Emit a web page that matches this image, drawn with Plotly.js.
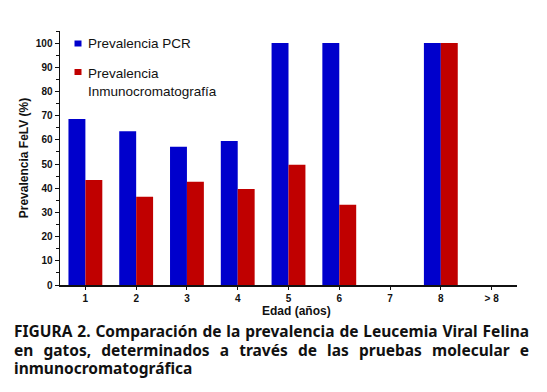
<!DOCTYPE html>
<html>
<head>
<meta charset="utf-8">
<script src="https://cdn.plot.ly/plotly-3.0.1.min.js"></script>
<style>
  html, body { margin: 0; padding: 0; background: #fff; }
  #wrap { position: relative; width: 547px; height: 392px; }
  #chart { position: absolute; left: 0; top: 0; width: 547px; height: 392px; }
  #caption {
    position: absolute; left: 14px; top: 322px; width: 515px;
    font-family: "Noto Sans", sans-serif; font-weight: bold; font-size: 15.5px;
    line-height: 18.5px; color: #111; text-align: justify;
  }
</style>
</head>
<body>
<div id="wrap">
  <div id="chart"></div>
  <div id="caption">FIGURA 2. Comparación de la prevalencia de Leucemia Viral Felina en gatos, determinados a través de las pruebas molecular e inmunocromatográfica</div>
</div>
<script>
const categories = ["1", "2", "3", "4", "5", "6", "7", "8", "> 8"];
const pcrValues = [68.6, 63.6, 57.2, 59.5, 100, 100, 0, 100, 0];
const inmunoValues = [43.4, 36.5, 42.7, 39.7, 49.7, 33.2, 0, 100, 0];
const seriesNames = ["Prevalencia PCR", "Prevalencia<br>Inmunocromatografía"];
const seriesColors = ["#0000CC", "#C00000"];

const traces = [
  { type: "bar", x: categories, y: pcrValues, name: seriesNames[0],
    marker: { color: seriesColors[0] } },
  { type: "bar", x: categories, y: inmunoValues, name: seriesNames[1],
    marker: { color: seriesColors[1] } }
];

// plot area: x 60..517 px, y 31..285 px
const L = 60, R = 517, T = 31, B = 285;
const px = x => (x - L) / (R - L);
const py = y => (B - y) / (B - T);

const legendRows = [43.5, 72];
const shapes = legendRows.map((yy, i) => ({
  type: "rect", xref: "paper", yref: "paper",
  x0: px(74.5), x1: px(81.5), y0: py(yy + 3), y1: py(yy - 3),
  fillcolor: seriesColors[i], line: { width: 0 }
}));
const annotations = [
  { xref: "paper", yref: "paper", x: px(86), y: py(43.5), xanchor: "left", yanchor: "middle",
    text: seriesNames[0], showarrow: false, font: { size: 13.5, color: "#111" } },
  { xref: "paper", yref: "paper", x: px(86), y: py(63.5), xanchor: "left", yanchor: "top",
    text: seriesNames[1], showarrow: false, align: "left", font: { size: 13.5, color: "#111" } },
  { xref: "paper", yref: "paper", x: px(296), y: py(311), xanchor: "center", yanchor: "middle",
    text: "Edad (años)", showarrow: false, font: { size: 12, weight: "bold", color: "#111" } }
];

const layout = {
  width: 547, height: 392,
  margin: { l: L, r: 547 - R, t: T, b: 392 - B },
  paper_bgcolor: "#fff", plot_bgcolor: "#fff",
  barmode: "group", bargap: 1/3, bargroupgap: 0,
  font: { family: "Liberation Sans, Arial, sans-serif", color: "#111" },
  showlegend: false,
  shapes: shapes,
  annotations: annotations,
  xaxis: {
    type: "category", range: [-0.5, 8.5],
    showline: true, linecolor: "#111", linewidth: 2,
    ticks: "outside", ticklen: 3, tickcolor: "#111",
    tickfont: { size: 10, weight: "bold" },
    showgrid: false, zeroline: false
  },
  yaxis: {
    range: [0, 105], tickvals: [0,10,20,30,40,50,60,70,80,90,100],
    showline: true, linecolor: "#111", linewidth: 1.5,
    ticks: "outside", ticklen: 4, tickcolor: "#111",
    minor: { dtick: 5, ticks: "outside", ticklen: 3, tickcolor: "#111" },
    tickfont: { size: 10, weight: "bold" },
    showgrid: false, zeroline: false,
    title: { text: "Prevalencia FeLV (%)", font: { size: 12, weight: "bold" }, standoff: 4 }
  }
};

Plotly.newPlot("chart", traces, layout, { displayModeBar: false, staticPlot: true });
</script>
</body>
</html>
